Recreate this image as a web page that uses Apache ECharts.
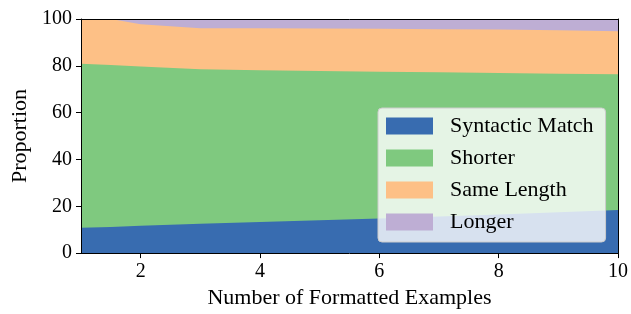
<!DOCTYPE html>
<html>
<head>
<meta charset="utf-8">
<script src="https://cdn.jsdelivr.net/npm/echarts@6/dist/echarts.min.js"></script>
<style>html,body{margin:0;padding:0;background:#fff}#c{width:631px;height:314px}</style>
</head>
<body>
<div id="c"></div>
<script>
const xValues = [1, 1.5, 2, 3, 4, 5, 6, 7, 8, 9, 10];
const syntacticMatch = [10.8, 11.2, 11.7, 12.5, 13.3, 14.0, 14.8, 15.6, 16.5, 17.4, 18.4];
const shorter = [70.1, 69.1, 68.0, 66.0, 64.8, 63.8, 62.7, 61.6, 60.4, 59.2, 58.0];
const sameLength = [19.1, 19.7, 18.1, 17.5, 17.9, 18.1, 18.3, 18.4, 18.6, 18.6, 18.4];
const longer = [0, 0, 2.2, 4.0, 4.0, 4.1, 4.2, 4.4, 4.5, 4.8, 5.2];
const xTicks = [2, 4, 6, 8, 10];
const yTicks = [0, 20, 40, 60, 80, 100];
const seriesNames = ['Syntactic Match', 'Shorter', 'Same Length', 'Longer'];
const colors = ['#386cb0', '#7fc97f', '#fdc086', '#beaed4'];
const FONT = 'Liberation Serif';

const seriesData = [syntacticMatch, shorter, sameLength, longer];
// cumulative tops for a stacked-area look (built from the arrays above)
const cumulative = [];
let running = xValues.map(() => 0);
seriesData.forEach(arr => {
  running = running.map((v, j) => v + arr[j]);
  cumulative.push(running.slice());
});

const series = [];
for (let i = seriesNames.length - 1; i >= 0; i--) {
  series.push({
    name: seriesNames[i], type: 'line',
    data: xValues.map((x, j) => [x, Math.min(100, +cumulative[i][j].toFixed(2))]),
    showSymbol: false, symbol: 'none', z: 2 + (seriesNames.length - i),
    lineStyle: {width: 0, color: colors[i]},
    itemStyle: {color: colors[i]},
    areaStyle: {color: colors[i], opacity: 1, origin: 'start'}
  });
}

const chart = echarts.init(document.getElementById('c'), null, {renderer: 'canvas'});
chart.setOption({
  animation: false,
  textStyle: {fontFamily: FONT, color: '#000'},
  grid: {left: 81, right: 13, top: 19, bottom: 58},
  legend: {
    orient: 'vertical', left: 378, top: 108, z: 20,
    padding: [7, 12, 9, 8],
    itemWidth: 47, itemHeight: 17, itemGap: 10,
    backgroundColor: 'rgba(255,255,255,0.8)',
    borderColor: '#cccccc', borderWidth: 1, borderRadius: 4,
    textStyle: {fontFamily: FONT, fontSize: 22, lineHeight: 17, color: '#000', padding: [0, 0, 0, 12]},
    data: seriesNames.map(n => ({name: n, icon: 'rect'}))
  },
  xAxis: [{
    type: 'value', min: 1, max: 10, z: 10,
    name: 'Number of Formatted Examples', nameLocation: 'middle', nameGap: 31,
    nameTextStyle: {fontFamily: FONT, fontSize: 22, color: '#000'},
    axisLine: {show: true, onZero: false, lineStyle: {color: '#000', width: 1}},
    axisTick: {show: true, length: 5, customValues: xTicks, lineStyle: {color: '#000'}},
    axisLabel: {customValues: xTicks, fontFamily: FONT, fontSize: 20, color: '#000', margin: 9},
    splitLine: {show: false}
  }, {
    type: 'value', min: 1, max: 10, position: 'top', z: 10,
    axisLine: {show: true, onZero: false, lineStyle: {color: '#000', width: 1}},
    axisTick: {show: false}, axisLabel: {show: false}, splitLine: {show: false}
  }],
  yAxis: [{
    type: 'value', min: 0, max: 100, interval: 20, z: 10,
    name: 'Proportion', nameLocation: 'middle', nameGap: 50,
    nameTextStyle: {fontFamily: FONT, fontSize: 22, color: '#000'},
    axisLine: {show: true, onZero: false, lineStyle: {color: '#000', width: 1}},
    axisTick: {show: true, length: 5, lineStyle: {color: '#000'}},
    axisLabel: {customValues: yTicks, fontFamily: FONT, fontSize: 20, color: '#000', margin: 9},
    splitLine: {show: false}
  }, {
    type: 'value', min: 0, max: 100, position: 'right', z: 10,
    axisLine: {show: true, onZero: false, lineStyle: {color: '#000', width: 1}},
    axisTick: {show: false}, axisLabel: {show: false}, splitLine: {show: false}
  }],
  series: series
});
</script>
</body>
</html>
